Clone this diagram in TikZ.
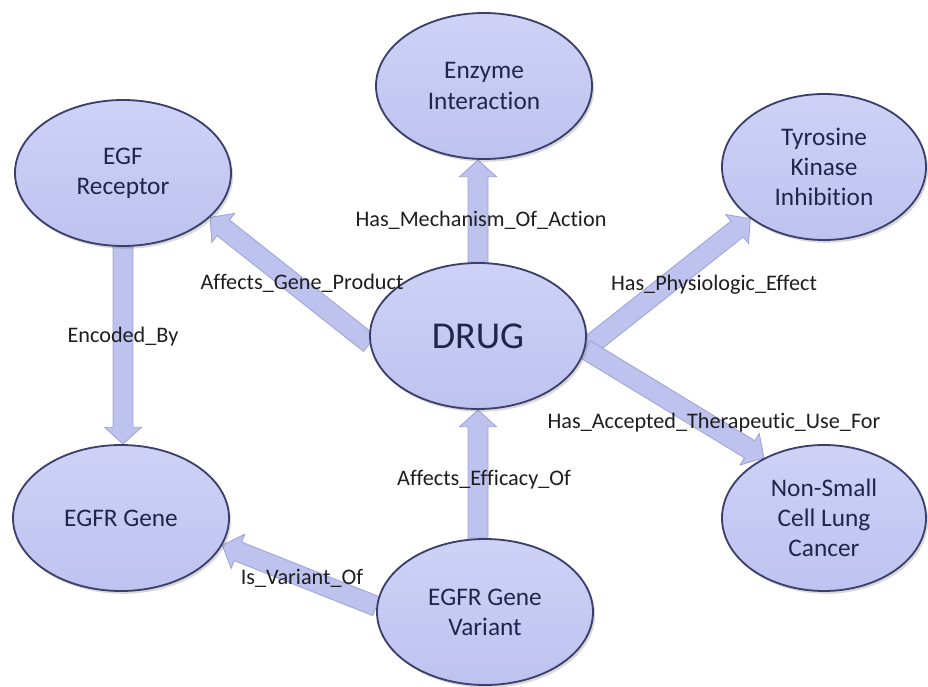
\documentclass[tikz,border=0pt]{standalone}
\usepackage{fontspec}
\setmainfont{Carlito}[Ligatures=NoCommon]
\usetikzlibrary{positioning,calc,shapes.geometric,shadows,backgrounds}
\definecolor{ellfill}{HTML}{BEC2EF}
\definecolor{ellhi}{HTML}{CFD2F6}
\definecolor{ellline}{HTML}{3A3F6C}
\definecolor{enttext}{HTML}{20264A}
\definecolor{arrfill}{HTML}{BEC2EE}
\definecolor{arrline}{HTML}{9EA3D8}
\definecolor{labtext}{HTML}{1E1E1E}
\tikzset{
  ent/.style={ellipse, draw=ellline, line width=1.3pt, top color=ellhi, bottom color=ellfill,
              minimum width=5.4cm, minimum height=3.65cm, inner sep=0pt, align=center,
              text=enttext, font=\fontsize{18}{21.5}\selectfont,
              drop shadow={shadow xshift=1.5pt, shadow yshift=-2pt, opacity=0.3}},
  entn/.style={ent, minimum width=5.1cm},
  rel/.style={text=labtext, font=\fontsize{15.8}{18}\selectfont, inner sep=1pt},
  barr/.style={fill=arrfill, draw=arrline, line width=0.6pt, line join=miter},
}
% wide block arrow from #1 to #2
\newcommand{\blockarr}[2]{%
  \coordinate (ba-n) at ($(#2)!0.42cm!(#1)$);
  \path[barr] ($(#1)!0.25cm!90:(#2)$) -- ($(ba-n)!0.25cm!90:(#2)$)
    -- ($(ba-n)!0.46cm!90:(#2)$) -- (#2) -- ($(ba-n)!0.46cm!-90:(#2)$)
    -- ($(ba-n)!0.25cm!-90:(#2)$) -- ($(#1)!0.25cm!-90:(#2)$) -- cycle;
}

\begin{document}
\begin{tikzpicture}[x=1cm,y=1cm]
\useasboundingbox (0,0) rectangle (23.2,-17.175);

% ---------------- concepts ----------------
\node[ent] (enz) at (12.1,-2.15) {Enzyme\\ Interaction};
\node[ent] (egf) at (3.075,-4.325) {EGF\\ Receptor};
\node[entn] (tki) at (20.6,-4.175) {Tyrosine\\ Kinase\\ Inhibition};
\node[ent, font=\fontsize{27}{30}\selectfont] (drug) at (11.95,-8.4) {DRUG};
\node[ent] (egfr) at (3.025,-12.95) {EGFR Gene};
\node[entn] (nsclc) at (20.6,-12.95) {Non-Small\\ Cell Lung\\ Cancer};
\node[ent] (var) at (12.125,-15.3) {EGFR Gene\\ Variant};

\coordinate (mecht) at (drug.north |- enz.south);
\coordinate (effb) at (drug.south |- var.north);
\coordinate (enct) at (egf.south |- egfr.north);

% ---------------- relations ----------------
\begin{scope}[on background layer]
  \blockarr{drug.north}{mecht}
  \blockarr{drug.184}{egf.-27}
  \blockarr{drug.-7}{tki.215}
  \blockarr{drug.-7}{nsclc.135}
  \blockarr{effb}{drug.south}
  \blockarr{var.177}{egfr.-15}
  \blockarr{egf.south}{enct}
\end{scope}

\node[rel] (lmech) at (12.025,-5.5) {Has\_Mechanism\_Of\_Action};
\node[rel] (lgene) at (7.55,-7.075) {Affects\_Gene\_Product};
\node[rel] (lenc) at (3.075,-8.425) {Encoded\_By};
\node[rel] (lphys) at (17.85,-7.125) {Has\_Physiologic\_Effect};
\node[rel] (lther) at (17.85,-10.575) {Has\_Accepted\_Therapeutic\_Use\_For};
\node[rel] (leff) at (12.1,-12.0) {Affects\_Efficacy\_Of};
\node[rel] (lvar) at (7.55,-14.45) {Is\_Variant\_Of};

\end{tikzpicture}
\end{document}
